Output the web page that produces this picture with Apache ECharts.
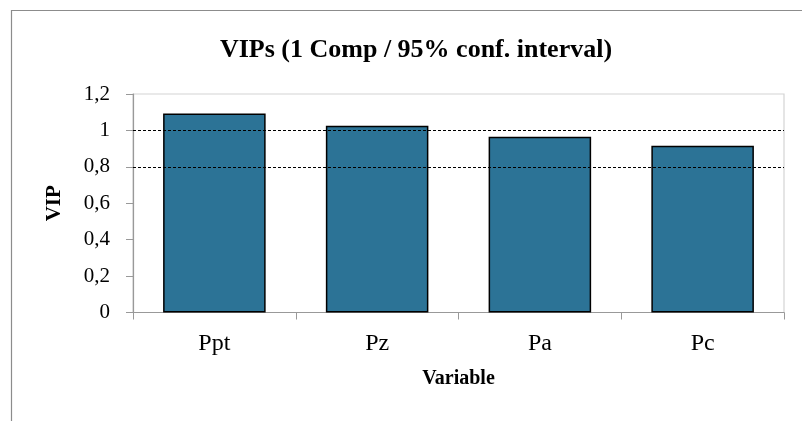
<!DOCTYPE html>
<html>
<head>
<meta charset="utf-8">
<script src="https://cdn.jsdelivr.net/npm/echarts@6/dist/echarts.min.js"></script>
<style>
  html, body { margin: 0; padding: 0; background: #fff; }
  #chart { width: 802px; height: 421px; }
</style>
</head>
<body>
<div id="chart"></div>
<script>
// VIP scores per variable, one component model
const categories = ['Ppt', 'Pz', 'Pa', 'Pc'];
const vipValues = [1.093, 1.026, 0.965, 0.916];
const thresholds = [1, 0.8];
const yTicks = [0, 0.2, 0.4, 0.6, 0.8, 1, 1.2];

const serif = '"Liberation Serif", "Times New Roman", serif';

const chart = echarts.init(document.getElementById('chart'), null, { renderer: 'canvas' });

chart.setOption({
  backgroundColor: '#fff',
  animation: false,
  title: {
    text: 'VIPs (1 Comp / 95% conf. interval)',
    left: 411,
    top: 32,
    textAlign: 'center',
    textStyle: { fontFamily: serif, fontSize: 26, fontWeight: 'bold', color: '#000' }
  },
  graphic: [{
    type: 'rect',
    shape: { x: 11.5, y: 10.5, width: 900, height: 600 },
    style: { fill: 'none', stroke: '#8c8c8c', lineWidth: 1.2 },
    silent: true
  }],
  grid: {
    left: 133, right: 18, top: 94, bottom: 108.5,
    show: true, borderColor: '#d4d4d4', borderWidth: 1.2
  },
  xAxis: {
    type: 'category',
    data: categories,
    name: 'Variable',
    nameLocation: 'middle',
    nameGap: 56,
    nameTextStyle: { fontFamily: serif, fontSize: 20, fontWeight: 'bold', color: '#000' },
    axisLine: { lineStyle: { color: '#999', width: 1.2 } },
    axisTick: { show: true, length: 7, lineStyle: { color: '#999' } },
    axisLabel: { margin: 19, fontFamily: serif, fontSize: 24, color: '#000' }
  },
  yAxis: {
    type: 'value',
    min: yTicks[0],
    max: yTicks[yTicks.length - 1],
    interval: 0.2,
    name: 'VIP',
    nameLocation: 'middle',
    nameGap: 68,
    nameRotate: 90,
    nameTextStyle: { fontFamily: serif, fontSize: 21, fontWeight: 'bold', color: '#000' },
    axisLine: { show: true, lineStyle: { color: '#999', width: 1.2 } },
    axisTick: { show: true, length: 7, lineStyle: { color: '#999' } },
    splitLine: { show: false },
    axisLabel: {
      margin: 23,
      fontFamily: serif,
      fontSize: 21,
      color: '#000',
      formatter: v => String(Math.round(v * 10) / 10).replace('.', ',')
    }
  },
  series: [{
    type: 'bar',
    data: vipValues,
    barWidth: '63%',
    itemStyle: { color: '#2c7396', borderColor: '#000', borderWidth: 1.5 },
    markLine: {
      silent: true,
      symbol: 'none',
      label: { show: false },
      lineStyle: { color: '#000', type: [3, 2], width: 1 },
      data: thresholds.map(t => ({ yAxis: t }))
    }
  }]
});
</script>
</body>
</html>
